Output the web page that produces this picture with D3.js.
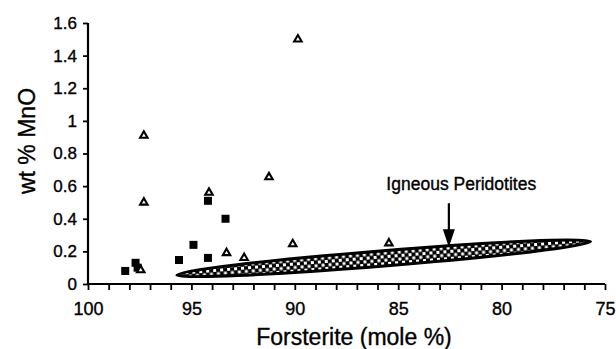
<!DOCTYPE html>
<html>
<head>
<meta charset="utf-8">
<script src="https://cdn.jsdelivr.net/npm/d3@7"></script>
<style>
  body { margin: 0; background: #fff; }
  text { font-family: "Liberation Sans", Arial, sans-serif; fill: #000; stroke: #000; stroke-width: 0.35px; }
</style>
</head>
<body>
<div id="container"></div>
<script>
var w = 616
var h = 349

// open triangles: [forsterite, MnO]
var triangles = [
  [97.3, 0.91], [89.85, 1.5], [97.3, 0.50], [97.45, 0.085],
  [94.15, 0.56], [93.3, 0.19], [92.45, 0.16], [91.25, 0.655],
  [90.1, 0.245], [85.45, 0.25]
]
// filled squares
var squares = [
  [98.2, 0.08], [97.7, 0.13], [97.6, 0.10], [95.6, 0.147],
  [94.9, 0.24], [94.2, 0.51], [94.2, 0.16], [93.35, 0.40]
]
// igneous peridotite field: two ends of the band and its half width (wt % MnO)
var fieldEnds = [[95.7, 0.055], [75.7, 0.26]]
var fieldHalf = 0.047
// label + arrow
var labelText = "Igneous Peridotites"
var labelPos = [81.95, 0.575]
var arrowFrom = [82.55, 0.495]
var arrowTo = [82.55, 0.225]

var xMajor = [100, 95, 90, 85, 80, 75]
var xMinor = d3.range(100, 74, -1)
var yTicks = [0, 0.2, 0.4, 0.6, 0.8, 1, 1.2, 1.4, 1.6]

var svg = d3.select("#container").append("svg")
    .attr("width", w)
    .attr("height", h)

var x = d3.scaleLinear().domain([100, 75]).range([88, 605])
var y = d3.scaleLinear().domain([0, 1.6]).range([284, 23])

// pattern for the band: white dots on black
var defs = svg.append("defs")
var pat = defs.append("pattern")
    .attr("id", "checker")
    .attr("patternUnits", "userSpaceOnUse")
    .attr("width", 7)
    .attr("height", 7)
pat.append("rect").attr("width", 7).attr("height", 7).attr("fill", "#000")
pat.append("rect").attr("x", 0.5).attr("y", 0.5).attr("width", 3).attr("height", 3).attr("fill", "#fff")
pat.append("rect").attr("x", 4).attr("y", 4).attr("width", 3).attr("height", 3).attr("fill", "#fff")

// band (ellipse)
var p1 = [x(fieldEnds[0][0]), y(fieldEnds[0][1])]
var p2 = [x(fieldEnds[1][0]), y(fieldEnds[1][1])]
var cx = (p1[0] + p2[0]) / 2, cy = (p1[1] + p2[1]) / 2
var len = Math.hypot(p2[0] - p1[0], p2[1] - p1[1])
var ang = Math.atan2(p2[1] - p1[1], p2[0] - p1[0]) * 180 / Math.PI
var ry = y(0) - y(fieldHalf)

svg.append("g")
    .attr("transform", "translate(" + cx + "," + cy + ") rotate(" + ang + ")")
  .append("ellipse")
    .attr("rx", len / 2)
    .attr("ry", ry)
    .attr("fill", "url(#checker)")
    .attr("stroke", "#000")
    .attr("stroke-width", 3)

// axes
var xAxis = d3.axisBottom(x)
    .tickValues(xMinor)
    .tickSize(6)
    .tickPadding(12)
    .tickFormat(function (d) { return xMajor.indexOf(d) >= 0 ? d : "" })

var gx = svg.append("g")
    .attr("transform", "translate(0," + y(0) + ")")
    .call(xAxis)
gx.select(".domain").attr("stroke-width", 2.2).attr("d", "M" + x(100) + ",0H" + x(75))
gx.selectAll(".tick line").attr("stroke-width", 1.8)
gx.selectAll("text").style("font-size", "18px").attr("fill", "#000")

var yAxis = d3.axisLeft(y)
    .tickValues(yTicks)
    .tickSize(5)
    .tickPadding(6)
    .tickFormat(function (d) { return String(d) })

var gy = svg.append("g")
    .attr("transform", "translate(" + x(100) + ",0)")
    .call(yAxis)
gy.select(".domain").attr("stroke-width", 2.2).attr("d", "M0," + y(1.6) + "V" + y(0))
gy.selectAll(".tick line").attr("stroke-width", 1.8)
gy.selectAll("text").style("font-size", "17px").attr("fill", "#000")

// axis titles
svg.append("text")
    .attr("x", 354)
    .attr("y", 345)
    .attr("text-anchor", "middle")
    .style("font-size", "23px")
    .text("Forsterite (mole %)")

svg.append("text")
    .attr("transform", "translate(35,141) rotate(-90)")
    .attr("text-anchor", "middle")
    .style("font-size", "23px")
    .text("wt % MnO")

// points
svg.selectAll(".sq")
    .data(squares)
    .enter()
    .append("rect")
    .attr("class", "sq")
    .attr("x", function (d) { return x(d[0]) - 4 })
    .attr("y", function (d) { return y(d[1]) - 4 })
    .attr("width", 8)
    .attr("height", 8)
    .attr("fill", "#000")

var tri = d3.symbol().type(d3.symbolTriangle).size(24)
svg.selectAll(".tri")
    .data(triangles)
    .enter()
    .append("path")
    .attr("class", "tri")
    .attr("d", tri)
    .attr("transform", function (d) { return "translate(" + x(d[0]) + "," + y(d[1]) + ")" })
    .attr("fill", "#fff")
    .attr("stroke", "#000")
    .attr("stroke-width", 2.1)

// label and arrow
svg.append("text")
    .attr("x", x(labelPos[0]))
    .attr("y", y(labelPos[1]))
    .attr("text-anchor", "middle")
    .style("font-size", "17.5px")
    .text(labelText)

var ax = x(arrowFrom[0]), ay1 = y(arrowFrom[1]), ay2 = y(arrowTo[1])
svg.append("line")
    .attr("x1", ax).attr("x2", ax)
    .attr("y1", ay1).attr("y2", ay2 - 14)
    .attr("stroke", "#000")
    .attr("stroke-width", 2.2)
svg.append("path")
    .attr("d", "M" + (ax - 6) + "," + (ay2 - 18) + "L" + (ax + 6) + "," + (ay2 - 18) + "L" + ax + "," + ay2 + "Z")
    .attr("fill", "#000")
</script>
</body>
</html>
